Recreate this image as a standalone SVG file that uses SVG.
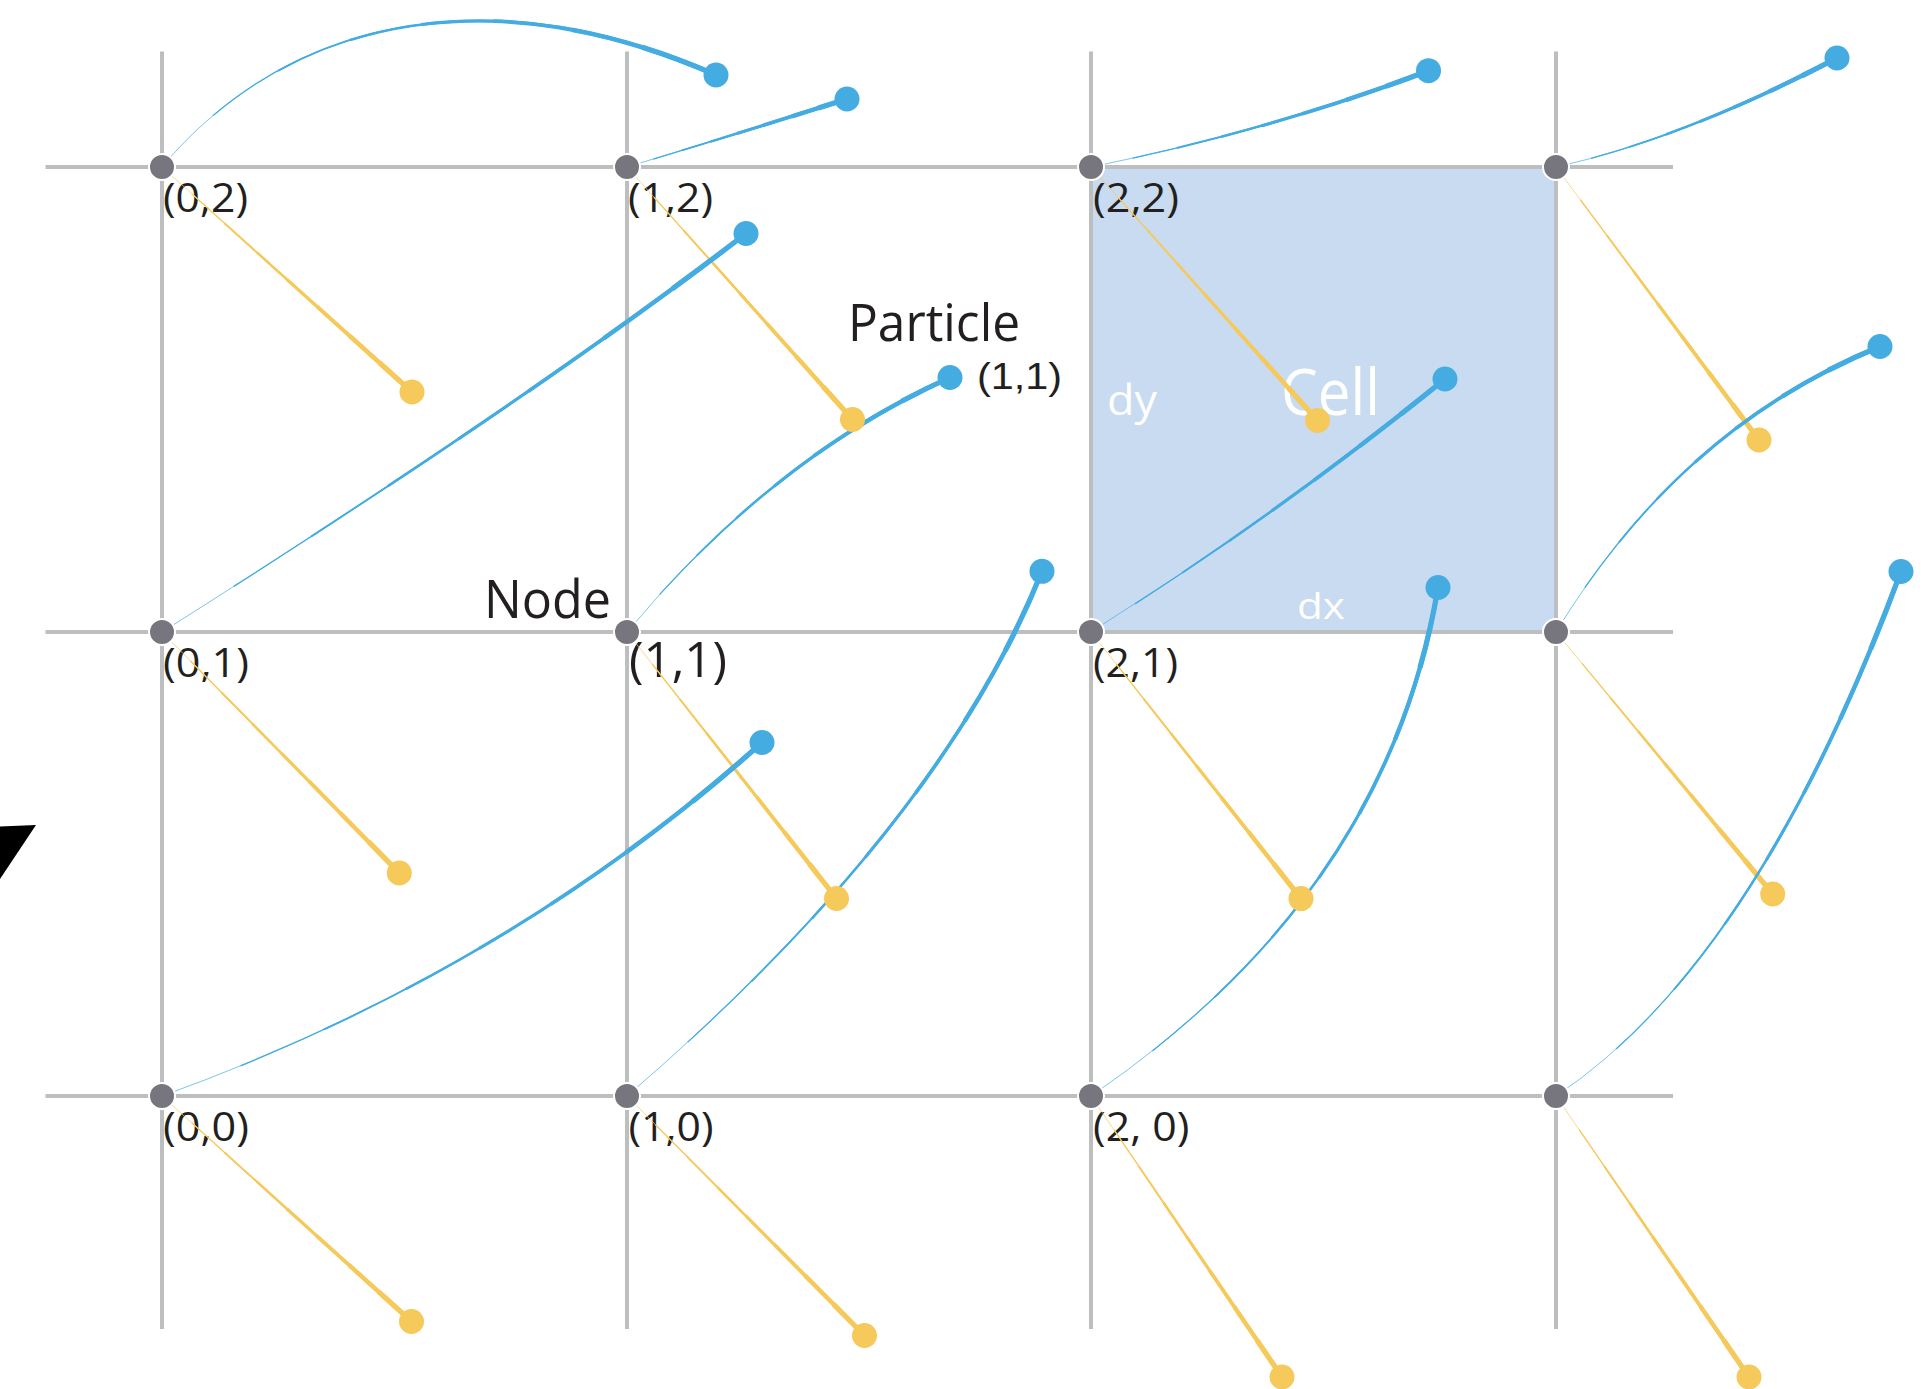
<svg xmlns="http://www.w3.org/2000/svg" xmlns:xlink="http://www.w3.org/1999/xlink" width="1927" height="1389" viewBox="0 0 1927 1389">
<style>
.grid{stroke:#bcbec0;stroke-width:4;fill:none}
.node{fill:#77767f;stroke:#fff;stroke-width:2}
.lbl{font-family:"Open Sans","Liberation Sans",sans-serif;fill:#231f20;font-size:40px}
.wl{font-family:"Open Sans","Liberation Sans",sans-serif;fill:#fff}
.bl{fill:none;stroke:#44ace1;stroke-linecap:butt}
.yl{fill:none;stroke:#f5c95a;stroke-linecap:butt}
.s0{stroke-width:0.7}
.s1{stroke-width:1.3;stroke-dasharray:0 12 88}
.s2{stroke-width:1.9;stroke-dasharray:0 25 75}
.s3{stroke-width:2.5;stroke-dasharray:0 38 62}
.s4{stroke-width:3.1;stroke-dasharray:0 50 50}
.s5{stroke-width:3.7;stroke-dasharray:0 62 38}
.s6{stroke-width:4.4;stroke-dasharray:0 75 25}
.s7{stroke-width:5.2;stroke-dasharray:0 87 13}
.bd{fill:#44ace1}
.yd{fill:#f5c95a}
</style>
<defs>
<path id="b1" pathLength="100" d="M162,167 C285,20 486,-26 716,75"/>
<path id="b2" pathLength="100" d="M627,167 Q737,134 847,99"/>
<path id="b3" pathLength="100" d="M1091,167 Q1273,130 1428.5,70.7"/>
<path id="b4" pathLength="100" d="M1556,167 Q1682,139 1837,58"/>
<path id="b5" pathLength="100" d="M162,632 Q528,401 746,233.5"/>
<path id="b6" pathLength="100" d="M627,632 Q773,457 950,377.5"/>
<path id="b7" pathLength="100" d="M1091,632 Q1276,516 1445,379"/>
<path id="b8" pathLength="100" d="M1556,632 Q1680,428 1880,346.5"/>
<path id="b9" pathLength="100" d="M162,1096 Q506,972 762,742.5"/>
<path id="b10" pathLength="100" d="M627,1096 Q939,828 1042,571.3"/>
<path id="b11" pathLength="100" d="M1091,1096 Q1387,894 1438,587.5"/>
<path id="b12" pathLength="100" d="M1556,1096 Q1756,963 1901,571.5"/>
<path id="y1" pathLength="100" d="M162,167 L412,392"/>
<path id="y2" pathLength="100" d="M627,167 L852.5,419.5"/>
<path id="y3" pathLength="100" d="M1091,167 L1317.5,420.5"/>
<path id="y4" pathLength="100" d="M1556,167 L1759,440"/>
<path id="y5" pathLength="100" d="M162,632 L399.3,873"/>
<path id="y6" pathLength="100" d="M627,632 L836.5,898.5"/>
<path id="y7" pathLength="100" d="M1091,632 L1301,898.6"/>
<path id="y8" pathLength="100" d="M1556,632 L1772.7,894"/>
<path id="y9" pathLength="100" d="M162,1096 L411.5,1321.5"/>
<path id="y10" pathLength="100" d="M627,1096 L864.5,1335.5"/>
<path id="y11" pathLength="100" d="M1091,1096 L1282,1377"/>
<path id="y12" pathLength="100" d="M1556,1096 L1749,1377"/>
<g id="ytrail">
<use href="#y1"/><use href="#y2"/><use href="#y3"/><use href="#y4"/><use href="#y5"/><use href="#y6"/><use href="#y7"/><use href="#y8"/><use href="#y9"/><use href="#y10"/><use href="#y11"/><use href="#y12"/>
</g>
<g id="btrail">
<use href="#b1"/><use href="#b2"/><use href="#b3"/><use href="#b4"/><use href="#b5"/><use href="#b6"/><use href="#b7"/><use href="#b8"/><use href="#b9"/><use href="#b10"/><use href="#b11"/><use href="#b12"/>
</g>
</defs>

<rect id="cell" x="1091" y="167" width="465" height="465" fill="#c9dbf0"/>

<g id="grid" class="grid">
<line x1="45.5" y1="167" x2="1673" y2="167"/>
<line x1="45.5" y1="632" x2="1673" y2="632"/>
<line x1="45.5" y1="1096" x2="1673" y2="1096"/>
<line x1="162" y1="51.5" x2="162" y2="1329"/>
<line x1="627" y1="51.5" x2="627" y2="1329"/>
<line x1="1091" y1="51.5" x2="1091" y2="1329"/>
<line x1="1556" y1="51.5" x2="1556" y2="1329"/>
</g>

<polygon id="arrow-tip" points="0,826.5 36,825 0,879" fill="#000"/>

<g id="cell-labels" class="wl">
<text x="1107" y="415" font-size="42" textLength="50" lengthAdjust="spacingAndGlyphs">dy</text>
<text x="1281" y="415" font-size="64" textLength="99" lengthAdjust="spacingAndGlyphs">Cell</text>
<text x="1297" y="619" font-size="37" textLength="48" lengthAdjust="spacingAndGlyphs">dx</text>
</g>

<g id="node-labels" class="lbl">
<text x="163" y="211.5" textLength="85" lengthAdjust="spacingAndGlyphs">(0,2)</text>
<text x="628" y="211.5" textLength="85" lengthAdjust="spacingAndGlyphs">(1,2)</text>
<text x="1093" y="211.5" textLength="86" lengthAdjust="spacingAndGlyphs">(2,2)</text>
<text x="163" y="677" textLength="86" lengthAdjust="spacingAndGlyphs">(0,1)</text>
<text x="629" y="677" font-size="49" textLength="98" lengthAdjust="spacingAndGlyphs">(1,1)</text>
<text x="1093" y="677" textLength="85" lengthAdjust="spacingAndGlyphs">(2,1)</text>
<text x="163" y="1141" textLength="86" lengthAdjust="spacingAndGlyphs">(0,0)</text>
<text x="628.5" y="1141" textLength="85" lengthAdjust="spacingAndGlyphs">(1,0)</text>
<text x="1093" y="1141" textLength="96.5" lengthAdjust="spacingAndGlyphs">(2, 0)</text>
<text x="484" y="618" font-size="53" textLength="127" lengthAdjust="spacingAndGlyphs">Node</text>
<text x="848" y="341" font-size="51" textLength="172" lengthAdjust="spacingAndGlyphs">Particle</text>
<text x="977" y="389" font-size="36" textLength="85" lengthAdjust="spacingAndGlyphs" style="font-family:'Liberation Sans',Arial,sans-serif">(1,1)</text>
</g>

<g id="connectors">
<g class="yl s0"><use href="#ytrail"/></g>
<g class="yl s1"><use href="#ytrail"/></g>
<g class="yl s2"><use href="#ytrail"/></g>
<g class="yl s3"><use href="#ytrail"/></g>
<g class="yl s4"><use href="#ytrail"/></g>
<g class="yl s5"><use href="#ytrail"/></g>
<g class="yl s6"><use href="#ytrail"/></g>
<g class="yl s7"><use href="#ytrail"/></g>
<g class="bl s0"><use href="#btrail"/></g>
<g class="bl s1"><use href="#btrail"/></g>
<g class="bl s2"><use href="#btrail"/></g>
<g class="bl s3"><use href="#btrail"/></g>
<g class="bl s4"><use href="#btrail"/></g>
<g class="bl s5"><use href="#btrail"/></g>
<g class="bl s6"><use href="#btrail"/></g>
<g class="bl s7"><use href="#btrail"/></g>
</g>

<g id="particles-yellow" class="yd">
<circle id="py1" cx="412" cy="392" r="12.5"/>
<circle id="py2" cx="852.5" cy="419.5" r="12.5"/>
<circle id="py3" cx="1317.5" cy="420.5" r="12.5"/>
<circle id="py4" cx="1759" cy="440" r="12.5"/>
<circle id="py5" cx="399.3" cy="873" r="12.5"/>
<circle id="py6" cx="836.5" cy="898.5" r="12.5"/>
<circle id="py7" cx="1301" cy="898.6" r="12.5"/>
<circle id="py8" cx="1772.7" cy="894" r="12.5"/>
<circle id="py9" cx="411.5" cy="1321.5" r="12.5"/>
<circle id="py10" cx="864.5" cy="1335.5" r="12.5"/>
<circle id="py11" cx="1282" cy="1377" r="12.5"/>
<circle id="py12" cx="1749" cy="1377" r="12.5"/>
</g>
<g id="particles-blue" class="bd">
<circle id="pb1" cx="716" cy="75" r="12.5"/>
<circle id="pb2" cx="847" cy="99" r="12.5"/>
<circle id="pb3" cx="1428.5" cy="70.7" r="12.5"/>
<circle id="pb4" cx="1837" cy="58" r="12.5"/>
<circle id="pb5" cx="746" cy="233.5" r="12.5"/>
<circle id="pb6" cx="950" cy="377.5" r="12.5"/>
<circle id="pb7" cx="1445" cy="379" r="12.5"/>
<circle id="pb8" cx="1880" cy="346.5" r="12.5"/>
<circle id="pb9" cx="762" cy="742.5" r="12.5"/>
<circle id="pb10" cx="1042" cy="571.3" r="12.5"/>
<circle id="pb11" cx="1438" cy="587.5" r="12.5"/>
<circle id="pb12" cx="1901" cy="571.5" r="12.5"/>
</g>

<g id="nodes" class="node">
<g id="node-0-2"><circle cx="162" cy="167" r="13"/></g>
<g id="node-1-2"><circle cx="627" cy="167" r="13"/></g>
<g id="node-2-2"><circle cx="1091" cy="167" r="13"/></g>
<g id="node-3-2"><circle cx="1556" cy="167" r="13"/></g>
<g id="node-0-1"><circle cx="162" cy="632" r="13"/></g>
<g id="node-1-1"><circle cx="627" cy="632" r="13"/></g>
<g id="node-2-1"><circle cx="1091" cy="632" r="13"/></g>
<g id="node-3-1"><circle cx="1556" cy="632" r="13"/></g>
<g id="node-0-0"><circle cx="162" cy="1096" r="13"/></g>
<g id="node-1-0"><circle cx="627" cy="1096" r="13"/></g>
<g id="node-2-0"><circle cx="1091" cy="1096" r="13"/></g>
<g id="node-3-0"><circle cx="1556" cy="1096" r="13"/></g>
</g>
</svg>
